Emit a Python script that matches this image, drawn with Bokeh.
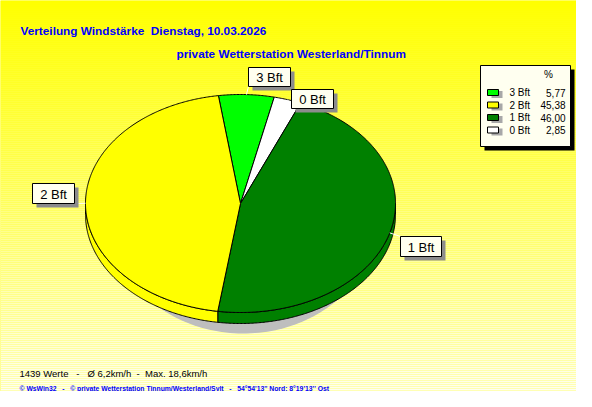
import numpy as np
from bokeh.plotting import figure
from bokeh.models import Range1d
from bokeh.core.properties import value
from bokeh.embed import file_html
from bokeh.resources import INLINE

# ---------------- data ----------------
categories = ["3 Bft", "2 Bft", "1 Bft", "0 Bft"]
percents = [5.77, 45.38, 46.00, 2.85]
percent_labels = ["5,77", "45,38", "46,00", "2,85"]
colors = ["#00FF00", "#FFFF00", "#008000", "#FFFFFF"]
pie_order = ["3 Bft", "0 Bft", "1 Bft", "2 Bft"]   # clockwise from the start angle
NB = "\u00a0"
title1 = "Verteilung Windstärke " + NB + "Dienstag, 10.03.2026"
title2 = "private Wetterstation Westerland/Tinnum"
stats_line = "1439 Werte " + NB + " - " + NB + " Ø 6,2km/h " + NB + "- " + NB + "Max. 18,6km/h"
footer_line = ("© WsWin32 " + NB + " - " + NB + " © private Wetterstation Tinnum/Westerland/Sylt "
               + NB + " - " + NB + " 54°54'13'' Nord; 8°19'13'' Ost")

# ---------------- layout ----------------
W, H = 576, 391
p = figure(width=W, height=H, output_backend="svg", toolbar_location=None,
           x_range=Range1d(0, W), y_range=Range1d(H, 0),
           x_axis_type=None, y_axis_type=None, min_border=0)
p.grid.visible = False
p.outline_line_color = None
p.background_fill_color = "#FFFF00"
p.border_fill_color = "#FFFF00"

SANS = value("'Liberation Sans', Arial, sans-serif")

# background gradient (yellow -> cream)
ys = np.arange(0, H, 2)
grad_cols = ["#FFFF%02X" % int(round(250 * (y + 1) / 407)) for y in ys]
p.quad(left=0, right=W, top=ys, bottom=ys + 2, fill_color=grad_cols, line_color=None)

# pie geometry
cx, cy, rx, ry, depth = 240, 203, 155, 109, 11
start_angle = 98.2
total = sum(percents)

def pt(th, dy=0.0):
    t = np.radians(th)
    return cx + rx * np.cos(t), cy - ry * np.sin(t) + dy

intervals = {}
a = start_angle
for name in pie_order:
    span = percents[categories.index(name)] / total * 360.0
    intervals[name] = (a - span, a)
    a -= span

# shadow
t = np.linspace(0, 2 * np.pi, 200)
p.patch(243 + 132 * np.cos(t), 220 + 113 * np.sin(t), fill_color="#BEBEBE", line_color=None)

# side walls (front half)
wx, wy, wc = [], [], []
for name in pie_order:
    lo, hi = intervals[name]
    for k in (-360, 0, 360):
        l2, h2 = max(lo, 180 + k), min(hi, 360 + k)
        if h2 > l2:
            th = np.linspace(l2, h2, max(3, int((h2 - l2) * 2)))
            x1, y1 = pt(th)
            x2, y2 = pt(th[::-1], depth)
            wx.append(list(x1) + list(x2))
            wy.append(list(y1) + list(y2))
            wc.append(colors[categories.index(name)])
p.patches(wx, wy, fill_color=wc, line_color="black", line_width=1)

# top faces
fx, fy, fc = [], [], []
for name in pie_order:
    lo, hi = intervals[name]
    th = np.linspace(lo, hi, max(3, int((hi - lo) * 2)))
    x1, y1 = pt(th)
    fx.append([cx] + list(x1))
    fy.append([cy] + list(y1))
    fc.append(colors[categories.index(name)])
p.patches(fx, fy, fill_color=fc, line_color="black", line_width=1)

# slice labels: box (left, top, right, bottom) and corner the connector attaches to
label_boxes = {
    "3 Bft": (248, 67, 290, 86, "bl"),
    "0 Bft": (291, 89, 333, 108, "bl"),
    "1 Bft": (400, 236, 441, 256, "tl"),
    "2 Bft": (32, 183, 74, 203, "br"),
}
cx0, cy0, cx1, cy1 = [], [], [], []
for name, (l, tp, r, b, corner) in label_boxes.items():
    lo, hi = intervals[name]
    ex, ey = pt((lo + hi) / 2)
    bx = l if corner[1] == "l" else r
    by = tp if corner[0] == "t" else b
    cx0.append(ex); cy0.append(ey); cx1.append(bx); cy1.append(by)
p.segment(cx0, cy0, cx1, cy1, line_color="white", line_width=1)

L = [v[0] for v in label_boxes.values()]
T = [v[1] for v in label_boxes.values()]
R = [v[2] for v in label_boxes.values()]
B = [v[3] for v in label_boxes.values()]
p.quad(left=[v + 4 for v in L], right=[v + 4 for v in R], top=[v + 4 for v in T],
       bottom=[v + 4 for v in B], fill_color="#8C8C8C", line_color=None)
p.quad(left=L, right=R, top=T, bottom=B, fill_color="#FFFFF0", line_color="black", line_width=1)
p.text(x=[(l + r) / 2 for l, r in zip(L, R)], y=[(tp + b) / 2 + 0.5 for tp, b in zip(T, B)],
       text=list(label_boxes.keys()), text_font=SANS, text_font_size=value("13px"),
       text_align="center", text_baseline="middle", text_color="black")

# legend
p.quad(left=484, right=574, top=69, bottom=150, fill_color="black", line_color=None)
p.quad(left=480, right=570, top=65, bottom=146, fill_color="#FFFFF0", line_color="black", line_width=1)
p.text(x=[548], y=[74], text=["%"], text_font=SANS, text_font_size=value("10px"),
       text_align="center", text_baseline="middle", text_color="black")
row_y = [92 + 12.5 * i for i in range(len(categories))]
p.quad(left=491, right=502, top=[y - 1.5 for y in row_y], bottom=[y + 5.5 for y in row_y],
       fill_color="#A8A8A8", line_color=None)
p.quad(left=487, right=498, top=[y - 3 for y in row_y], bottom=[y + 3 for y in row_y],
       fill_color=colors, line_color="black", line_width=1)
p.text(x=[509] * len(categories), y=row_y, text=categories, text_font=SANS,
       text_font_size=value("10px"), text_align="left", text_baseline="middle", text_color="black")
p.text(x=[565] * len(categories), y=row_y, text=percent_labels, text_font=SANS,
       text_font_size=value("10px"), text_align="right", text_baseline="middle", text_color="black")

# titles and footer
p.text(x=[20], y=[30], text=[title1], text_font=SANS, text_font_size=value("11.8px"),
       text_font_style="bold", text_color="#0000FF", text_baseline="alphabetic")
p.text(x=[176], y=[53], text=[title2], text_font=SANS, text_font_size=value("11.8px"),
       text_font_style="bold", text_color="#0000FF", text_baseline="alphabetic")
p.text(x=[19], y=[373], text=[stats_line], text_font=SANS, text_font_size=value("9.5px"),
       text_color="black", text_baseline="alphabetic")
p.text(x=[19], y=[388], text=[footer_line], text_font=SANS, text_font_size=value("6.8px"),
       text_font_style="bold", text_color="#0000FF", text_baseline="alphabetic")

open("out.html", "w").write(file_html(p, INLINE))
